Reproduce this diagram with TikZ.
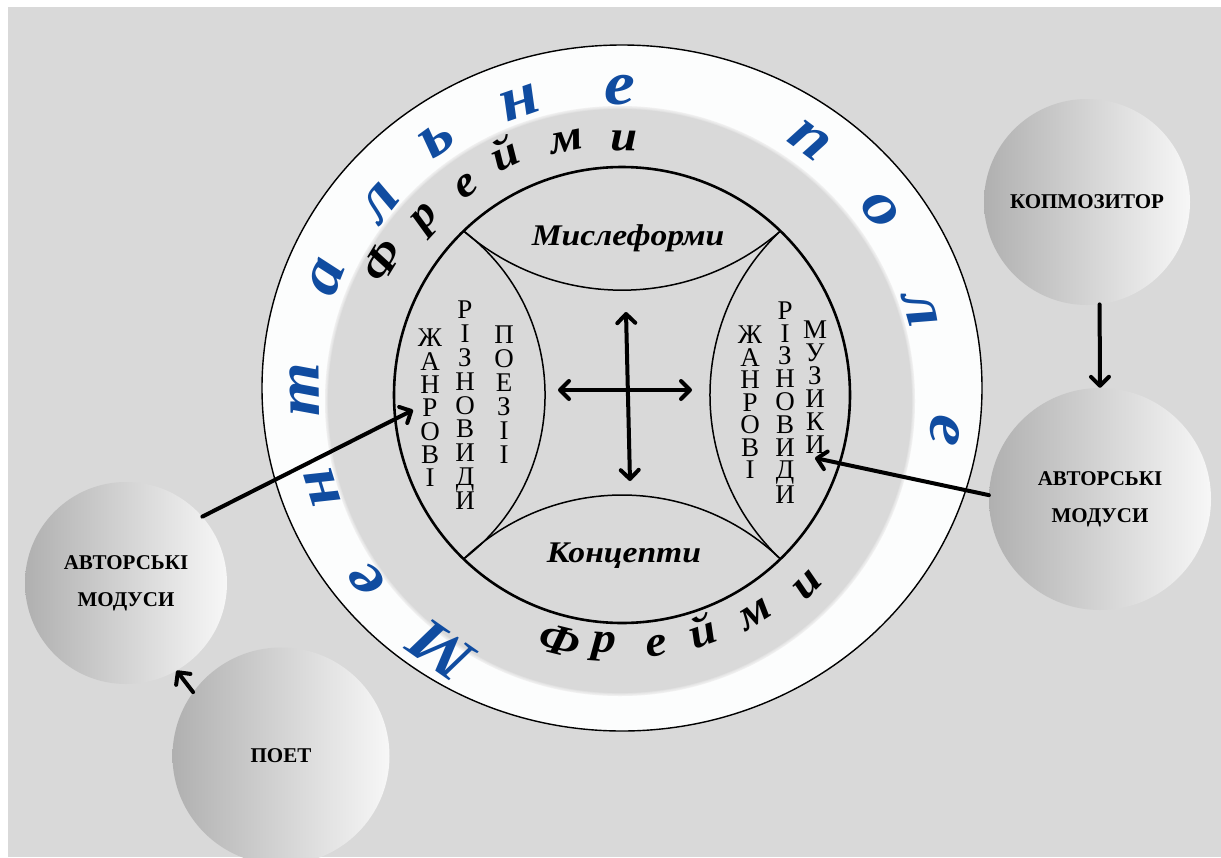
\documentclass[tikz,border=0pt]{standalone}
\usepackage{fontspec}
\setmainfont{Liberation Serif}
\newfontfamily\itf{Liberation Serif}[FakeStretch=1.12]
\usetikzlibrary{arrows.meta}
\definecolor{bg}{RGB}{217,217,217}
\definecolor{ringw}{RGB}{252,253,253}
\definecolor{blueL}{RGB}{16,76,160}
\definecolor{cdark}{RGB}{176,176,176}
\definecolor{clight}{RGB}{247,247,247}
\begin{document}
\begin{tikzpicture}[x=1pt,y=-1pt,
  bubble/.style={circle, inner sep=0pt, left color=cdark, right color=clight, font=\bfseries\fontsize{21}{37}\selectfont, align=center, text=black},
  vcol/.style={inner sep=0pt, anchor=north, align=center, font=\fontsize{27}{#1}\selectfont},
  bl/.style={inner sep=0pt, text=blueL, font=\itf\bfseries\itshape\fontsize{62}{62}\selectfont},
  fr/.style={inner sep=0pt, font=\itf\bfseries\itshape\fontsize{43}{43}\selectfont},
  lab/.style={inner sep=0pt, anchor=base, font=\itf\bfseries\itshape\fontsize{30}{30}\selectfont},
  arr/.style={line width=4pt, line cap=round, -{Straight Barb[length=9pt,width=18pt,round]}},
  darr/.style={line width=4pt, line cap=round, {Straight Barb[length=9pt,width=18pt,round]}-{Straight Barb[length=9pt,width=18pt,round]}},
  lens/.style={line width=1.5pt},
]
\useasboundingbox (0,0) rectangle (1221,857);
\clip (0,0) rectangle (1221,857);
\fill[white] (0,0) rectangle (1221,857);
\fill[bg] (8,7) rectangle (1221,857);

% rings
\path[fill=ringw, draw=black, line width=1.4pt] (622,388) circle [x radius=360, y radius=343];
\fill[bg] (620,401) circle [radius=295];
\foreach \k in {1,...,5}
  \draw[white, opacity=0.18, line width={1.2*\k pt}] (620,401) circle [radius=295];
\draw[line width=2.6pt] (622,395) circle [radius=228];

% star points and lens arcs
\coordinate (TL) at (463.6,231);
\coordinate (TR) at (780.4,231);
\coordinate (BL) at (463.6,559);
\coordinate (BR) at (780.4,559);
\draw[lens] (TL) .. controls (554.6,309.9) and (689.4,309.9) .. (TR);
\draw[lens] (BL) .. controls (551.9,473.7) and (692.1,473.7) .. (BR);
\draw[lens] (TL) .. controls (572.2,313.5) and (572.2,476.5) .. (BL);
\draw[lens] (TR) .. controls (686.5,320.1) and (686.5,469.9) .. (BR);

% labels
\node[lab] (mysl) at (628,245) {Мислеформи};
\node[lab] (konc) at (624,562) {Концепти};

% vertical columns (top of first capital = baseline - 17.9)
\node[vcol=23.3] (la) at (430,329) {Ж\\А\\Н\\Р\\О\\В\\І};
\node[vcol=23.8] (lb) at (465,301) {Р\\І\\З\\Н\\О\\В\\И\\Д\\И};
\node[vcol=24] (lc) at (504,326) {П\\О\\Е\\З\\І\\І};
\node[vcol=22.5] (ra) at (750,326) {Ж\\А\\Н\\Р\\О\\В\\І};
\node[vcol=22.8] (rb) at (785,301.5) {Р\\І\\З\\Н\\О\\В\\И\\Д\\И};
\node[vcol=23] (rc) at (815,321) {М\\У\\З\\И\\К\\И};

% blue ring text
\foreach \x/\y/\r/\ch [count=\i] in {441.5/650.4/145/М, 367/580/126.2/е, 322/487/107.3/н, 305/390/90.7/т, 327/277/68.3/а, 380/203/51.6/л, 437/140/35.9/ь, 520/103/19.1/н, 620/90/0.2/е, 810/140/-36.7/п, 880/210/-54.6/о, 920/310/-74.3/л, 945/430/-96.3/е}
  \node[bl, rotate=\r] (bt\i) at (\x,\y) {\ch};

% frames text
\foreach \x/\y/\r/\ch [count=\i] in {382/261/58.6/Ф, 428/220/47.3/р, 466/186/35.6/е, 504/153/25.3/й, 567/142/11.6/м, 624/141/-0.9/и}
  \node[fr, rotate=\r] (ft\i) at (\x,\y) {\ch};
\foreach \x/\y/\r/\ch [count=\i] in {560/641/-13.8/Ф, 604/647/-4/р, 657/646/8.6/е, 702/631/19.6/й, 755/615/32.2/м, 808/585/45.6/и}
  \node[fr, rotate=\r] (fb\i) at (\x,\y) {\ch};

% bubbles
\node[bubble, minimum size=206pt] (komp) at (1087,202) {КОПМОЗИТОР};
\node[bubble, minimum size=222pt] (rac) at (1100,499) {АВТОРСЬКІ\\МОДУСИ};
\node[bubble, minimum size=202pt] (lac) at (126,583) {АВТОРСЬКІ\\МОДУСИ};
\node[bubble, minimum size=217pt] (poet) at (281,756) {ПОЕТ};

% arrows
\coordinate (lt) at (413,410);
\coordinate (rt) at (815,458);
\draw[arr] (lac.41) -- (lt);
\draw[arr] (rac.178) -- (rt);
\draw[arr] (komp.-83) -- (rac.north);
\draw[arr] (poet.144) -- (lac.-60);
\coordinate (vt) at (626,312);
\coordinate (vb) at (630,481);
\coordinate (hl) at (558,390);
\coordinate (hr) at (692,390);
\draw[darr] (vt) -- (vb);
\draw[darr] (hl) -- (hr);
\end{tikzpicture}
\end{document}
